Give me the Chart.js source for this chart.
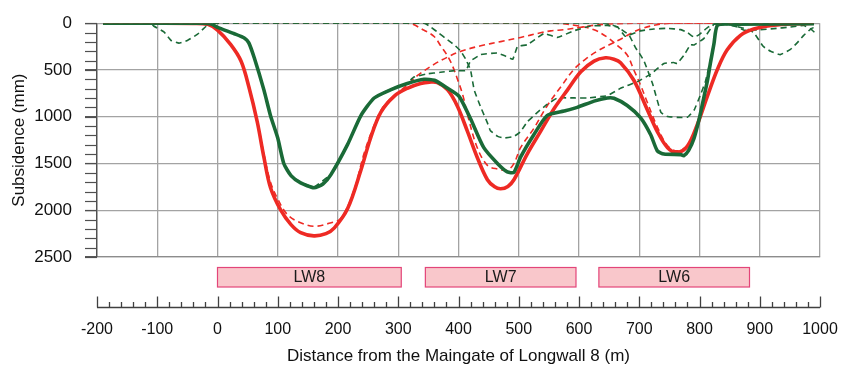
<!DOCTYPE html>
<html>
<head>
<meta charset="utf-8">
<script src="https://cdn.jsdelivr.net/npm/chart.js@4.4.1/dist/chart.umd.min.js"></script>
<style>
  html, body { margin: 0; padding: 0; background: #ffffff; }
  canvas { display: block; }
</style>
</head>
<body>
<canvas id="chart" width="843" height="372"></canvas>
<script>
// Subsidence profiles across Longwalls 8, 7 and 6.
// Each point is [distance from the maingate of LW8 (m), subsidence (mm)].

const measuredTotal = [
  [-190, 0], [-100, 0], [-25, 0], [-10, 10], [0, 45], [28, 113], [45, 160], [52, 210], [61, 370],
  [77, 713], [88, 990], [100, 1228], [110, 1500], [122, 1630], [138, 1708], [160, 1759],
  [175, 1720], [188, 1622], [216, 1296], [238, 988], [260, 800], [287, 713], [315, 645],
  [343, 600], [360, 610], [382, 696], [401, 782], [420, 1022], [442, 1331], [465, 1502],
  [481, 1590], [492, 1595], [503, 1433], [525, 1193], [547, 988], [575, 940], [597, 900],
  [625, 833], [647, 800], [658, 803], [680, 880], [702, 1010], [719, 1193], [730, 1365],
  [741, 1399], [769, 1405], [774, 1417], [782, 1360], [791, 1230], [800, 1010], [807, 800],
  [813, 620], [818, 430], [824, 220], [830, 20], [860, 10], [990, 5]
];

const predictedTotal = [
  [-190, 0], [-100, 0], [-40, 2], [-17, 10], [0, 75], [22, 230], [39, 405], [52, 679], [66, 1056],
  [77, 1433], [88, 1760], [105, 2000], [122, 2154], [138, 2240], [160, 2274], [180, 2250],
  [194, 2188], [216, 1982], [238, 1571], [254, 1228], [271, 953], [293, 782], [315, 696],
  [337, 645], [352, 630], [365, 635], [382, 713], [398, 885], [415, 1159], [431, 1433],
  [448, 1674], [460, 1750], [470, 1770], [482, 1745], [492, 1674], [514, 1399], [536, 1159],
  [558, 919], [581, 713], [603, 520], [625, 405], [644, 370], [658, 385], [669, 422],
  [691, 610], [713, 919], [730, 1159], [747, 1331], [763, 1382], [780, 1314], [796, 1091],
  [813, 782], [830, 490], [846, 285], [868, 130], [890, 62], [923, 21], [960, 5], [990, 0]
];

const predictedLW8 = [
  [-190, 0], [-20, 5], [0, 75], [22, 225], [39, 400], [52, 670], [66, 1040], [77, 1400],
  [88, 1700], [100, 1880], [115, 2040], [133, 2120], [160, 2171], [185, 2140], [205, 2085],
  [227, 1777], [243, 1399], [260, 1091], [276, 885], [299, 748], [315, 660], [332, 559],
  [360, 438], [382, 362], [404, 300], [437, 241], [470, 197], [503, 152], [536, 103],
  [553, 82], [575, 69], [603, 44], [619, 27], [650, 8], [700, 0], [990, 0]
];

const predictedLW7 = [
  [-190, 0], [315, 0], [343, 76], [360, 145], [371, 248], [382, 352], [390, 455], [398, 593],
  [407, 765], [415, 980], [431, 1330], [448, 1520], [465, 1560], [481, 1571], [492, 1502],
  [503, 1331], [525, 1125], [547, 885], [570, 679], [592, 490], [611, 384], [630, 300],
  [652, 225], [672, 161], [686, 110], [705, 55], [735, 10], [760, 0], [990, 0]
];

const predictedLW6 = [
  [-190, 0], [560, 0], [600, 30], [625, 70], [647, 150], [664, 240], [680, 340], [691, 500],
  [702, 660], [713, 840], [730, 1110], [747, 1310], [763, 1365], [780, 1305], [796, 1085],
  [813, 780], [830, 490], [846, 285], [868, 130], [890, 62], [923, 21], [960, 5], [990, 0]
];

const measuredLW8 = [
  [-190, 0], [-110, 0], [-106, 30], [-89, 93], [-77, 185], [-64, 213], [-50, 185], [-33, 117],
  [-19, 34], [-10, 8], [0, 42], [28, 110], [45, 155], [52, 205], [61, 365], [77, 705],
  [88, 985], [100, 1220], [110, 1495], [122, 1625], [138, 1700], [160, 1752], [188, 1615],
  [216, 1290], [238, 985], [260, 795], [287, 708], [315, 640], [326, 576], [348, 542],
  [370, 525], [393, 507], [412, 507], [420, 405], [437, 336], [464, 319], [478, 352],
  [490, 386], [498, 248], [514, 231], [530, 160], [542, 110], [564, 152], [592, 80],
  [619, 30], [647, 25], [664, 41], [677, 140], [690, 110], [702, 82], [724, 62], [746, 55],
  [769, 69], [780, 100], [791, 150], [800, 120], [807, 79], [815, 40], [824, 10], [835, 0],
  [990, 0]
];

const measuredLW7 = [
  [-190, 0], [343, 0], [354, 41], [368, 110], [382, 179], [393, 231], [404, 300], [412, 386],
  [420, 500], [426, 713], [437, 900], [448, 1066], [453, 1150], [465, 1210], [475, 1228],
  [492, 1211], [503, 1159], [514, 1056], [531, 953], [547, 868], [564, 800], [592, 799],
  [614, 799], [647, 775], [669, 696], [697, 625], [719, 545], [741, 430], [757, 421],
  [763, 430], [774, 345], [785, 231], [791, 233], [807, 165], [824, 10], [835, 5], [850, 20],
  [863, 41], [874, 75], [901, 69], [923, 58], [951, 41], [973, 24], [984, 58], [993, 110]
];

const measuredLW6 = [
  [-190, 0], [640, 0], [655, 20], [664, 41], [683, 127], [694, 264], [700, 320], [708, 405],
  [722, 645], [736, 954], [747, 998], [763, 1007], [780, 1005], [791, 930], [802, 760],
  [810, 620], [818, 400], [824, 200], [830, 20], [850, 15], [863, 38], [880, 65], [890, 100],
  [906, 250], [918, 300], [934, 336], [951, 280], [962, 210], [973, 130], [985, 60], [990, 45]
];

// Longwall panel extents (m)
const panelNames = ['LW8', 'LW7', 'LW6'];
const panelStart = [0, 345, 633];
const panelEnd = [305, 595, 883];

// Axis ticks
const distanceTicks = [-200, -100, 0, 100, 200, 300, 400, 500, 600, 700, 800, 900, 1000];
const subsidenceTicks = [0, 500, 1000, 1500, 2000, 2500];
const distanceMinorStep = 20;
const subsidenceMinorStep = 100;

const RED = '#ee2a24';
const GREEN = '#1a6a37';
const GRID = '#a3a3a3';
const AXIS = '#505050';
const FONT = '"Liberation Sans", Arial, sans-serif';

const toPoints = arr => arr.map(([x, y]) => ({ x, y }));

function solid(label, data, color, tension) {
  return { label, data: toPoints(data), borderColor: color, borderWidth: 3.6, tension };
}
function dashed(label, data, color, tension) {
  return { label, data: toPoints(data), borderColor: color, borderWidth: 1.6, borderDash: [6, 4], tension };
}

// Panel boxes, minor ticks on the subsidence axis and the distance ruler
const panelsAndRuler = {
  id: 'panelsAndRuler',
  afterDraw(chart) {
    const { ctx } = chart;
    const x = chart.scales.x;
    const y = chart.scales.y;
    ctx.save();

    // minor tick marks on the subsidence axis
    ctx.strokeStyle = AXIS;
    ctx.lineWidth = 1.2;
    const yMax = subsidenceTicks[subsidenceTicks.length - 1];
    for (let v = subsidenceTicks[0]; v <= yMax; v += subsidenceMinorStep) {
      const py = Math.round(y.getPixelForValue(v)) + 0.5;
      ctx.beginPath();
      ctx.moveTo(x.left - 12, py);
      ctx.lineTo(x.left, py);
      ctx.stroke();
    }

    // longwall panels
    const boxTop = y.bottom + 10.5;
    const boxH = 19.5;
    panelNames.forEach((name, i) => {
      const x0 = x.getPixelForValue(panelStart[i]);
      const x1 = x.getPixelForValue(panelEnd[i]);
      ctx.fillStyle = '#f9c7cb';
      ctx.fillRect(x0, boxTop, x1 - x0, boxH);
      ctx.strokeStyle = '#e34579';
      ctx.lineWidth = 1.2;
      ctx.strokeRect(x0, boxTop, x1 - x0, boxH);
      ctx.fillStyle = '#1a1a1a';
      ctx.font = '16px ' + FONT;
      ctx.textAlign = 'center';
      ctx.textBaseline = 'middle';
      ctx.fillText(name, (x0 + x1) / 2, boxTop + boxH / 2 + 0.5);
    });

    // distance ruler
    const ry = Math.round(y.bottom + 50) + 0.5;
    const xMin = distanceTicks[0];
    const xMax = distanceTicks[distanceTicks.length - 1];
    ctx.strokeStyle = '#404040';
    ctx.lineWidth = 1.3;
    ctx.beginPath();
    ctx.moveTo(x.getPixelForValue(xMin), ry);
    ctx.lineTo(x.getPixelForValue(xMax), ry);
    ctx.stroke();
    for (let v = xMin; v <= xMax; v += distanceMinorStep) {
      const px = Math.round(x.getPixelForValue(v)) + 0.5;
      const len = distanceTicks.includes(v) ? 11 : 5.5;
      ctx.beginPath();
      ctx.moveTo(px, ry);
      ctx.lineTo(px, ry - len);
      ctx.stroke();
    }
    ctx.restore();
  }
};

new Chart(document.getElementById('chart'), {
  type: 'line',
  data: {
    datasets: [
      solid('Measured total', measuredTotal, GREEN, 0.2),
      solid('Predicted total', predictedTotal, RED, 0.35),
      dashed('Measured LW8', measuredLW8, GREEN, 0.1),
      dashed('Measured LW7', measuredLW7, GREEN, 0.1),
      dashed('Measured LW6', measuredLW6, GREEN, 0.1),
      dashed('Predicted LW8', predictedLW8, RED, 0.35),
      dashed('Predicted LW7', predictedLW7, RED, 0.35),
      dashed('Predicted LW6', predictedLW6, RED, 0.35)
    ]
  },
  options: {
    responsive: false,
    animation: false,
    devicePixelRatio: 1,
    layout: { padding: { left: 0, right: 23, top: 14, bottom: 0 } },
    elements: {
      point: { radius: 0, hoverRadius: 0 },
      line: { fill: false, capBezierPoints: true }
    },
    plugins: {
      legend: { display: false },
      tooltip: { enabled: false }
    },
    scales: {
      x: {
        type: 'linear',
        position: 'bottom',
        min: -200,
        max: 1000,
        afterBuildTicks: s => { s.ticks = distanceTicks.map(v => ({ value: v })); },
        afterFit: s => { s.height = 115; },
        grid: { color: GRID, lineWidth: 1.3, drawTicks: true, tickLength: 63, tickColor: 'rgba(0,0,0,0)' },
        border: { display: true, color: '#8c8c8c', width: 1.3 },
        ticks: {
          autoSkip: false,
          maxRotation: 0,
          padding: 0,
          color: '#111',
          font: { family: FONT, size: 16 },
          callback: v => String(v)
        },
        title: {
          display: true,
          text: 'Distance from the Maingate of Longwall 8 (m)',
          color: '#111',
          font: { family: FONT, size: 17 },
          padding: { top: 0, bottom: 5 }
        }
      },
      y: {
        type: 'linear',
        reverse: true,
        min: 0,
        max: 2500,
        afterBuildTicks: s => { s.ticks = subsidenceTicks.map(v => ({ value: v })); },
        afterFit: s => { s.width = 97; },
        grid: { color: GRID, lineWidth: 1.3, drawTicks: true, tickLength: 12, tickColor: AXIS, tickWidth: 1.2 },
        border: { display: true, color: AXIS, width: 1.4 },
        ticks: {
          padding: 13,
          color: '#111',
          font: { family: FONT, size: 17 },
          callback: v => String(v)
        },
        title: {
          display: true,
          text: 'Subsidence (mm)',
          color: '#111',
          font: { family: FONT, size: 17 },
          padding: { top: 9, bottom: 0 }
        }
      }
    }
  },
  plugins: [panelsAndRuler]
});
</script>
</body>
</html>
